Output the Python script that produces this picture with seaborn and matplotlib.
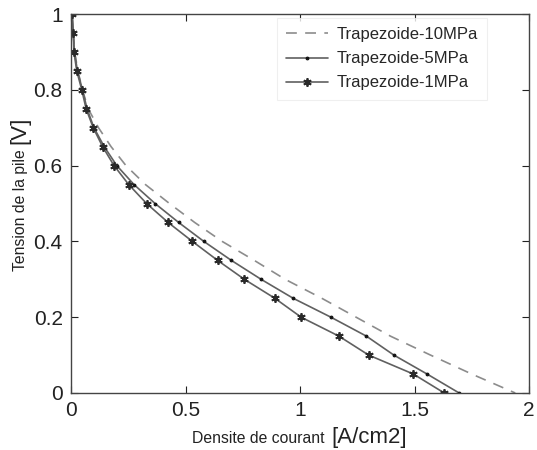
import pandas as pd
import seaborn as sns
import matplotlib.pyplot as plt

# voltage levels (V) shared by the three polarisation curves
tension = [1.0, 0.95, 0.9, 0.85, 0.8, 0.75, 0.7, 0.65, 0.6, 0.55, 0.5,
           0.45, 0.4, 0.35, 0.3, 0.25, 0.2, 0.15, 0.1, 0.05, 0.0]

# current density (A/cm2)
courant_10mpa = [0.0, 0.01, 0.016, 0.03, 0.05, 0.075, 0.12, 0.175, 0.24, 0.325, 0.43,
                 0.54, 0.66, 0.80, 0.935, 1.095, 1.245, 1.395, 1.57, 1.75, 1.94]
courant_5mpa = [0.005, 0.01, 0.015, 0.028, 0.05, 0.07, 0.10, 0.145, 0.20, 0.275, 0.367,
                0.47, 0.58, 0.70, 0.83, 0.97, 1.135, 1.29, 1.41, 1.555, 1.695]
courant_1mpa = [0.005, 0.01, 0.013, 0.025, 0.047, 0.066, 0.097, 0.138, 0.188, 0.252, 0.33,
                0.424, 0.53, 0.64, 0.757, 0.89, 1.005, 1.17, 1.30, 1.495, 1.63]

labels = ['Trapezoide-10MPa', 'Trapezoide-5MPa', 'Trapezoide-1MPa']

sns.set_style('ticks')
plt.rcParams['font.family'] = ['Liberation Sans', 'DejaVu Sans']

fig = plt.figure(figsize=(5.37, 4.5), dpi=100)
ax = fig.add_axes([71 / 537, 1 - 393 / 450, 458 / 537, 379 / 450])

sns.lineplot(x=courant_10mpa, y=tension, sort=False, estimator=None, ax=ax,
             color='#8c8c8c', linestyle=(0, (6.5, 5)), linewidth=1.2, label=labels[0])
sns.lineplot(x=courant_5mpa, y=tension, sort=False, estimator=None, ax=ax,
             color='#606060', linewidth=1.2, marker='.', markersize=4,
             markerfacecolor='#111111', markeredgecolor='#111111', label=labels[1])
sns.lineplot(x=courant_1mpa, y=tension, sort=False, estimator=None, ax=ax,
             color='#606060', linewidth=1.2, marker=(6, 2, 0), markersize=6,
             markeredgecolor='#2a2a2a', markeredgewidth=1.3, label=labels[2])

ax.set_xlim(0, 2)
ax.set_ylim(0, 1)
ax.set_xticks([0, 0.5, 1, 1.5, 2])
ax.set_xticklabels(['0', '0.5', '1', '1.5', '2'])
ax.set_yticks([0, 0.2, 0.4, 0.6, 0.8, 1])
ax.set_yticklabels(['0', '0.2', '0.4', '0.6', '0.8', '1'])
ax.tick_params(direction='in', length=5, width=0.8, labelsize=15, colors='#222222',
               top=True, right=True, pad=6)
for sp in ax.spines.values():
    sp.set_visible(True)
    sp.set_color('#444444')
    sp.set_linewidth(1.0)
ax.set_xlabel('')
ax.set_ylabel('')

leg = ax.legend(loc='upper left', bbox_to_anchor=((277 - 71) / 458, (393 - 18) / 379),
                borderaxespad=0, fontsize=12, frameon=True, fancybox=False,
                handlelength=2.5, handletextpad=0.5, borderpad=0.55,
                labelspacing=0.55, edgecolor='#ececec')
leg.get_frame().set_linewidth(0.8)

# axis labels in two sizes, like the original
fig.text(324 / 537, 1 - 443 / 450, 'Densite de courant', fontsize=11.3,
         ha='right', va='baseline', color='#222222')
fig.text(331 / 537, 1 - 443 / 450, '[A/cm2]', fontsize=16,
         ha='left', va='baseline', color='#222222')
fig.text(25 / 537, 1 - 149 / 450, 'Tension de la pile', fontsize=11.3, rotation=90,
         rotation_mode='anchor', ha='right', va='baseline', color='#222222')
fig.text(25 / 537, 1 - 144 / 450, '[V]', fontsize=16, rotation=90,
         rotation_mode='anchor', ha='left', va='baseline', color='#222222')

fig.savefig('out.png', dpi=100, facecolor='white')
